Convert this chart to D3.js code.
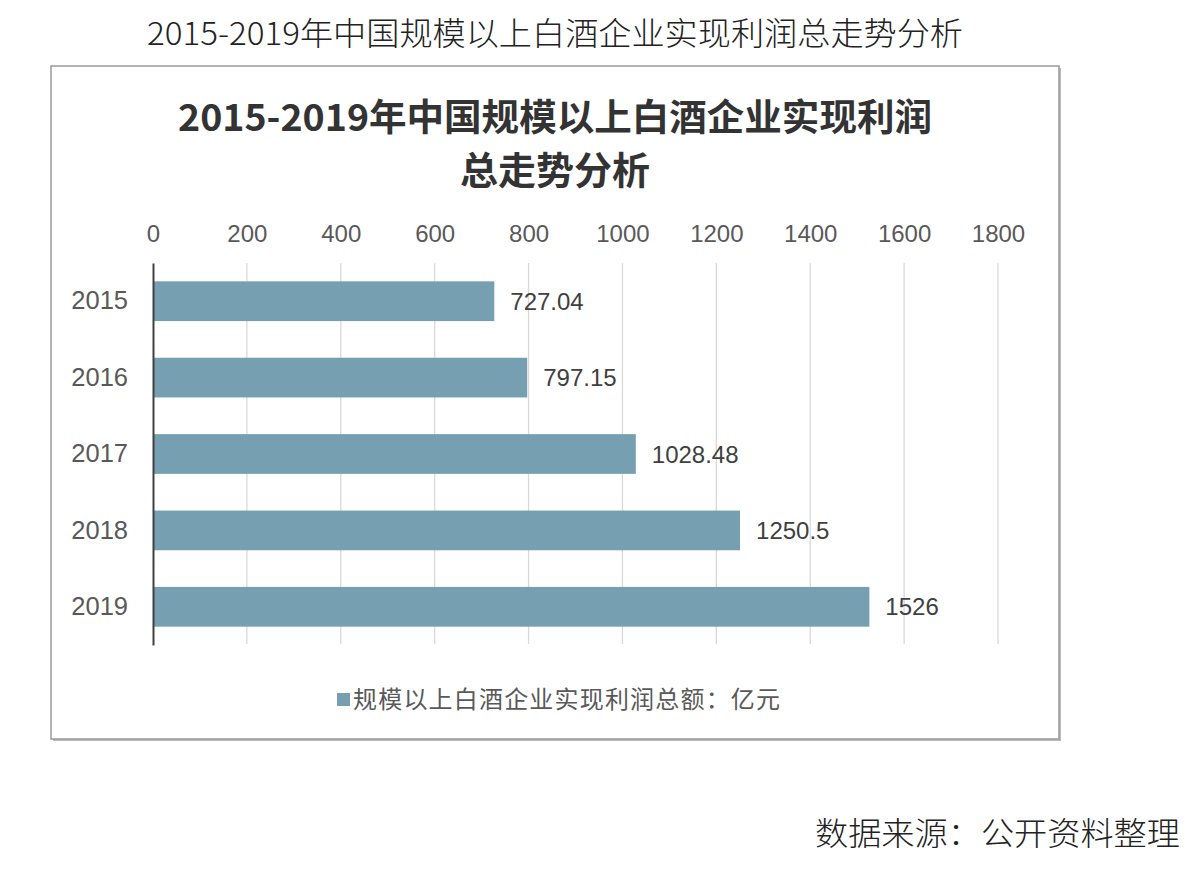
<!DOCTYPE html>
<html><head><meta charset="utf-8">
<script src="https://cdn.jsdelivr.net/npm/d3@7"></script>
<style>body{margin:0;background:#fff}svg{display:block}</style>
</head><body>
<svg id="c" width="1200" height="882"></svg>
<script>
const years = ["2015","2016","2017","2018","2019"];
const profits = [727.04, 797.15, 1028.48, 1250.5, 1526];
const valueLabels = ["727.04","797.15","1028.48","1250.5","1526"];
const xTicks = [0,200,400,600,800,1000,1200,1400,1600,1800];
const pageTitle = "2015-2019年中国规模以上白酒企业实现利润总走势分析";
const chartTitle = ["2015-2019年中国规模以上白酒企业实现利润", "总走势分析"];
const legendLabel = "规模以上白酒企业实现利润总额：亿元";
const sourceText = "数据来源：公开资料整理";

const svg = d3.select("#c");
const cjk = "'Noto Sans CJK SC','Noto Sans',sans-serif";
const latin = "'Liberation Sans',Arial,'Noto Sans CJK SC',sans-serif";

svg.append("text").attr("x",147).attr("y",45)
  .attr("font-family",cjk).attr("font-size",32).attr("font-weight",300).attr("fill","#222")
  .attr("textLength",816).attr("lengthAdjust","spacingAndGlyphs")
  .text(pageTitle);

// chart box
svg.append("rect").attr("x",53).attr("y",68).attr("width",1008).attr("height",673).attr("fill","#bbb");
svg.append("rect").attr("x",51).attr("y",66).attr("width",1008).attr("height",673)
  .attr("fill","#fff").attr("stroke","#9a9a9a").attr("stroke-width",1.5);

const t = svg.append("g").attr("font-family",cjk).attr("font-weight",700).attr("fill","#333");
t.append("text").attr("x",178).attr("y",131).attr("font-size",37)
  .attr("textLength",754).attr("lengthAdjust","spacingAndGlyphs").text(chartTitle[0]);
t.append("text").attr("x",555).attr("y",184).attr("font-size",38).attr("text-anchor","middle").text(chartTitle[1]);

const x = d3.scaleLinear().domain([0,1800]).range([153,998]);
const y = d3.scaleBand().domain(years).range([263,645]).paddingInner(0.48).paddingOuter(0.24);

// gridlines
svg.append("g").selectAll("line").data(xTicks.slice(1)).join("line")
  .attr("x1",d=>x(d)).attr("x2",d=>x(d)).attr("y1",263).attr("y2",644)
  .attr("stroke","#d9d9d9").attr("stroke-width",1.3);

// top axis labels
const xAxis = d3.axisTop(x).tickValues(xTicks).tickSize(0).tickPadding(0).tickFormat(d3.format("d"));
const gx = svg.append("g").attr("transform","translate(0,242)").call(xAxis);
gx.select(".domain").remove();
gx.selectAll("text").attr("font-family",latin).attr("font-size",24).attr("fill","#595959").attr("dy",0);

// bars
svg.append("g").selectAll("rect").data(years).join("rect")
  .attr("x",x(0)).attr("y",d=>y(d)).attr("height",y.bandwidth())
  .attr("width",(d,i)=>x(profits[i])-x(0)).attr("fill","#76a0b2");

// left axis
const yAxis = d3.axisLeft(y).tickSize(0).tickPadding(25);
const gy = svg.append("g").attr("transform",`translate(${x(0)},0)`).call(yAxis);
gy.select(".domain").attr("stroke","#404040").attr("stroke-width",2);
gy.selectAll("text").attr("font-family",latin).attr("font-size",25.5).attr("fill","#595959");

// value labels
svg.append("g").selectAll("text").data(years).join("text")
  .attr("x",(d,i)=>x(profits[i])+16).attr("y",d=>y(d)+y.bandwidth()/2).attr("dy","0.36em")
  .attr("font-family",latin).attr("font-size",24).attr("fill","#404040")
  .text((d,i)=>valueLabels[i]);

// legend
svg.append("rect").attr("x",337).attr("y",693).attr("width",13).attr("height",13).attr("fill","#76a0b2");
svg.append("text").attr("x",353).attr("y",708).attr("font-family",cjk).attr("font-size",24)
  .attr("fill","#595959").attr("textLength",427).text(legendLabel);

// source
svg.append("text").attr("x",815).attr("y",845).attr("font-family",cjk).attr("font-size",32)
  .attr("font-weight",300).attr("fill","#222")
  .attr("textLength",365).attr("lengthAdjust","spacingAndGlyphs").text(sourceText);
</script>
</body></html>
